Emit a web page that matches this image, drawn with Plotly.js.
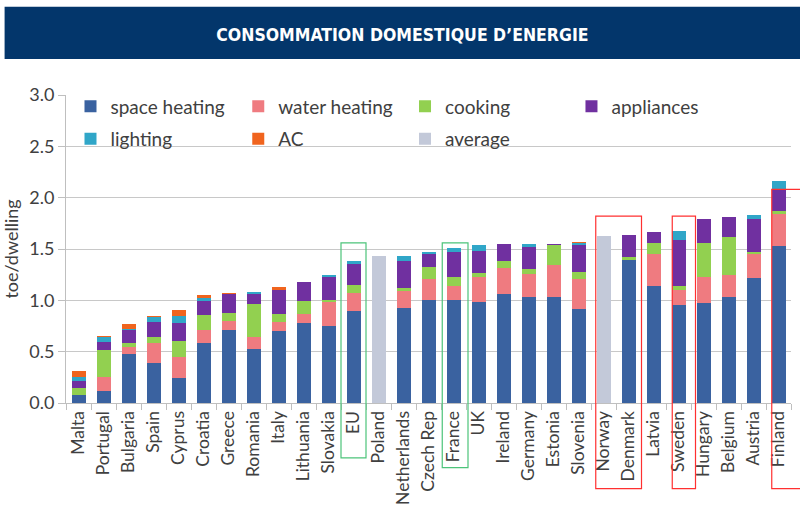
<!DOCTYPE html>
<html>
<head>
<meta charset="utf-8">
<script src="https://cdn.plot.ly/plotly-3.0.1.min.js"></script>
<style>
html,body{margin:0;padding:0;background:#fff;}
#chart{width:800px;height:507px;}
</style>
</head>
<body>
<div id="chart"></div>
<script>
const countries = ["Malta","Portugal","Bulgaria","Spain","Cyprus","Croatia","Greece","Romania","Italy","Lithuania","Slovakia","EU","Poland","Netherlands","Czech Rep","France","UK","Ireland","Germany","Estonia","Slovenia","Norway","Denmark","Latvia","Sweden","Hungary","Belgium","Austria","Finland"];
const spaceHeating = [0.08,0.12,0.48,0.39,0.24,0.58,0.71,0.53,0.70,0.78,0.75,0.90,null,0.93,1.00,1.00,0.98,1.06,1.03,1.03,0.92,null,1.39,1.14,0.95,0.97,1.03,1.22,1.53];
const waterHeating = [0,0.13,0.065,0.19,0.21,0.13,0.085,0.115,0.09,0.09,0.23,0.175,null,0.16,0.21,0.135,0.245,0.255,0.225,0.31,0.285,null,0,0.31,0.155,0.26,0.22,0.23,0.315];
const cooking = [0.065,0.27,0.035,0.06,0.15,0.145,0.08,0.32,0.075,0.12,0.02,0.075,null,0.035,0.115,0.095,0.04,0.07,0.05,0.195,0.07,null,0.035,0.11,0.035,0.325,0.37,0.025,0.025];
const appliances = [0.07,0.075,0.13,0.15,0.175,0.135,0.19,0.10,0.24,0.19,0.23,0.20,null,0.255,0.125,0.24,0.22,0.165,0.215,0.015,0.26,null,0.21,0.11,0.45,0.24,0.195,0.32,0.20];
const lighting = [0.035,0.045,0.015,0.045,0.075,0.035,0,0.02,0,0,0.02,0.03,null,0.05,0.02,0.035,0.05,0,0.03,0,0.02,null,0,0,0.085,0,0,0.04,0.09];
const ac = [0.065,0.01,0.04,0.01,0.055,0.03,0.01,0,0.025,0,0,0,null,0,0,0,0,0,0,0,0.015,null,0,0,0,0,0,0,0];
const average = [null,null,null,null,null,null,null,null,null,null,null,null,1.43,null,null,null,null,null,null,null,null,1.63,null,null,null,null,null,null,null];
const seriesNames = ["space heating","water heating","cooking","appliances","lighting","AC","average"];
const seriesColors = ["#3a62a0","#ef7b80","#92d050","#7030a0","#30a6c8","#f0641e","#c3c9d9"];
const seriesLegends = ["legend","legend2","legend3","legend4","legend","legend2","legend3"];
const titleText = "CONSOMMATION DOMESTIQUE D’ENERGIE";
const yTitle = "toe/dwelling";
// highlight boxes: [fromIndex, toIndex, topValue, bottomPaper, color]
const boxes = [
  [10.5, 11.5, 1.56, -0.178, "#4cc47a"],
  [14.55, 15.58, 1.56, -0.21, "#4cc47a"],
  [20.69, 22.52, 1.82, -0.278, "#ff3030"],
  [23.75, 24.68, 1.82, -0.278, "#ff3030"],
  [27.73, 29.4, 2.08, -0.278, "#ff3030"]
];

const allSeries = [spaceHeating, waterHeating, cooking, appliances, lighting, ac, average];
const traces = allSeries.map((vals, i) => ({
  type: "bar",
  x: countries,
  y: vals,
  name: seriesNames[i],
  legend: seriesLegends[i],
  legendgroup: "g" + i,
  marker: {color: seriesColors[i], line: {width: 0}},
  hoverinfo: "x+y+name"
}));

const N = countries.length;
const yMax = 3;
const shapes = boxes.map(b => ({
  type: "rect", xref: "paper", yref: "paper",
  x0: (b[0] + 0.5) / N, x1: (b[1] + 0.5) / N,
  y0: b[3], y1: b[2] / yMax,
  line: {color: b[4], width: 1.2}, fillcolor: "rgba(0,0,0,0)", layer: "above"
}));
// title banner
shapes.push({
  type: "rect", xref: "paper", yref: "paper",
  x0: -0.0847, x1: 1.02, y0: 1.1167, y1: 1.2862,
  line: {width: 0}, fillcolor: "#03366b", layer: "below"
});

const legendFont = {family: "Lato, sans-serif", size: 19, color: "#404040"};
const mkLegend = (x) => ({
  x: x, y: 1.025, xanchor: "left", yanchor: "top",
  orientation: "v", bgcolor: "rgba(0,0,0,0)", borderwidth: 0,
  font: legendFont, tracegroupgap: 5, itemclick: false
});

const layout = {
  width: 800, height: 507,
  margin: {l: 65.5, r: 8.5, t: 95, b: 103.5},
  paper_bgcolor: "#ffffff", plot_bgcolor: "#ffffff",
  barmode: "stack", bargap: 0.44,
  font: {family: "Lato, sans-serif", color: "#404040"},
  title: {
    text: titleText, x: 0.503, xanchor: "center", y: 0.931, yanchor: "middle",
    xref: "container", yref: "container",
    font: {family: "DejaVu Sans Condensed, DejaVu Sans, sans-serif", size: 17.5, color: "#ffffff", weight: "bold"}
  },
  showlegend: true,
  legend: mkLegend(0.0062),
  legend2: mkLegend(0.2376),
  legend3: mkLegend(0.4676),
  legend4: mkLegend(0.6972),
  xaxis: {
    type: "category", tickangle: -90, tickson: "boundaries",
    ticks: "outside", ticklen: 6, tickcolor: "#bfbfbf",
    showline: true, linecolor: "#bfbfbf", linewidth: 1,
    showgrid: false, fixedrange: true,
    tickfont: {family: "Lato, sans-serif", size: 17.5, color: "#404040"}
  },
  yaxis: {
    range: [0, yMax], dtick: 0.5, tickformat: ".1f",
    showgrid: true, gridcolor: "#c8c8c8", gridwidth: 1,
    zeroline: false, showline: true, linecolor: "#bfbfbf", linewidth: 1,
    ticks: "outside", ticklen: 7, tickcolor: "#bfbfbf",
    tickfont: {family: "Lato, sans-serif", size: 18, color: "#404040"},
    title: {text: yTitle, standoff: 10, font: {family: "Lato, sans-serif", size: 18, color: "#404040"}},
    fixedrange: true
  },
  shapes: shapes
};

Plotly.newPlot("chart", traces, layout, {displayModeBar: false, staticPlot: true});
</script>
</body>
</html>
